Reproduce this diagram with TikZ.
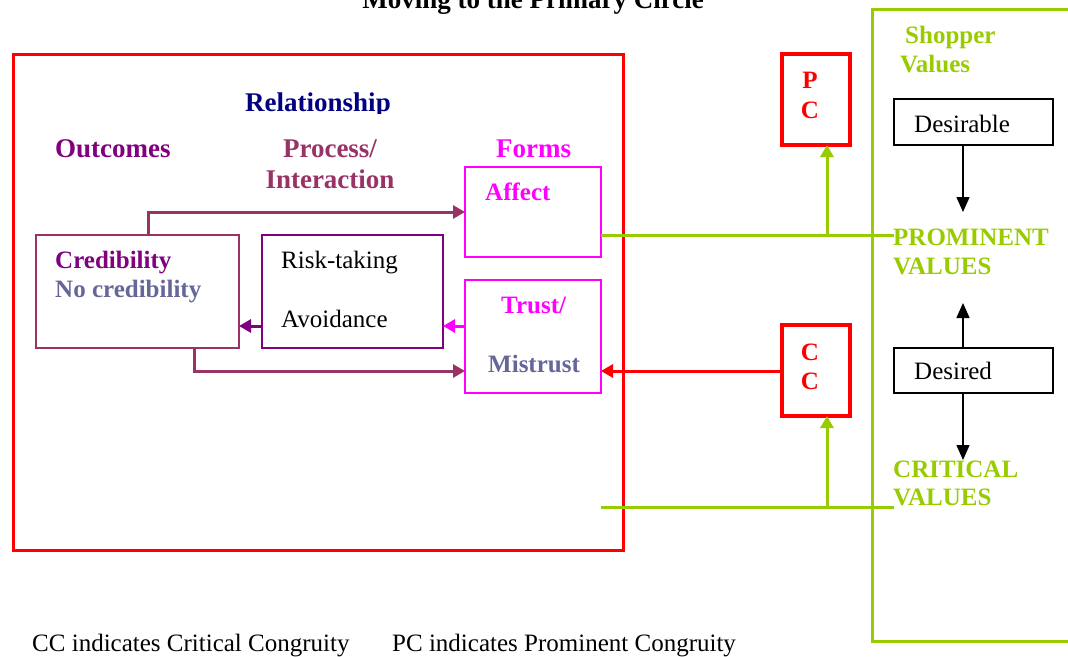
\documentclass[tikz,border=0pt]{standalone}
\usepackage{fontspec}
\setmainfont{Liberation Serif}
\usetikzlibrary{arrows.meta,calc}
\definecolor{cred}{HTML}{FF0000}
\definecolor{cgreen}{HTML}{99CC00}
\definecolor{cmag}{HTML}{FF00FF}
\definecolor{cpurple}{HTML}{800080}
\definecolor{cplum}{HTML}{993366}
\definecolor{cslate}{HTML}{666699}
\definecolor{cnavy}{HTML}{000080}
\begin{document}
\begin{tikzpicture}[x=1pt,y=-1pt,
  box/.style={draw, inner sep=0pt, outer sep=0pt, anchor=north west},
  txt/.style={anchor=base west, inner sep=0pt, font=\fontsize{25}{30}\selectfont},
  btxt/.style={anchor=base west, inner sep=0pt, font=\fontsize{25}{30}\selectfont\bfseries},
  ctxt/.style={anchor=base, inner sep=0pt, font=\fontsize{25}{30}\selectfont\bfseries},
  head/.style={anchor=base, inner sep=0pt, font=\fontsize{27}{32}\selectfont\bfseries},
  tri/.style={-{Triangle[length=12pt,width=13pt]}},
  btri/.style={-{Triangle[length=15pt,width=13pt]}, line width=1.5pt, black}]
\useasboundingbox (0,0) rectangle (1068,656);
\clip (0,0) rectangle (1068,656);

% title
\node[head] (title) at (533,8) {Moving to the Primary Circle};

% big relationship box
\node[box, draw=cred, line width=3pt, minimum width=610pt, minimum height=496pt] (rel) at (13,54) {};
\begin{scope}
\clip (200,80) rectangle (440,113);
\node[head, text=cnavy] (reltitle) at (318,111) {Relationship};
\end{scope}
\node[head, text=cpurple, anchor=base west] (outc) at (55,157) {Outcomes};
\node[head, text=cplum] (proc) at (330,157) {Process/};
\node[head, text=cplum] (inter) at (330,188) {Interaction};
\node[head, text=cmag, anchor=base west] (forms) at (496,157) {Forms};

% boxes inside
\node[box, draw=cmag, line width=1.5pt, minimum width=136pt, minimum height=90pt] (affect) at (465,167) {};
\node[btxt, text=cmag] (affectt) at (485,200) {Affect};
\node[box, draw=cmag, line width=1.5pt, minimum width=136pt, minimum height=113pt] (trust) at (465,280) {};
\node[btxt, text=cmag] (trustt) at (501,313) {Trust/};
\node[btxt, text=cslate] (mistr) at (488,372) {Mistrust};
\node[box, draw=cplum, line width=1.5pt, minimum width=203pt, minimum height=113pt] (cred) at (36,235) {};
\node[btxt, text=cpurple] (credt) at (55,268) {Credibility};
\node[btxt, text=cslate] (nocred) at (55,297) {No credibility};
\node[box, draw=cpurple, line width=2pt, minimum width=181pt, minimum height=113pt] (risk) at (262,235) {};
\node[txt] (riskt) at (281,268) {Risk-taking};
\node[txt] (avoid) at (281,327) {Avoidance};

% internal connectors
\draw[tri, cplum, line width=3pt] ($(cred.north west)+(112,0)$) |- (affect.west);
\draw[tri, cplum, line width=3pt] ($(cred.south west)+(158,0)$) |- ($(trust.south west)+(0,-22)$);
\coordinate (a1) at ($(risk.south west)+(0,-22)$);
\draw[tri, cpurple, line width=3pt] (a1) -- (a1 -| cred.east);
\coordinate (a2) at ($(trust.north west)+(0,46)$);
\draw[tri, cmag, line width=3pt] (a2) -- (a2 -| risk.east);

% PC and CC boxes
\node[box, draw=cred, line width=3.5pt, minimum width=68pt, minimum height=91pt] (pc) at (782,54) {};
\node[ctxt, text=cred] (pcp) at (810,88) {P};
\node[ctxt, text=cred] (pcc) at (810,118) {C};
\node[box, draw=cred, line width=3.5pt, minimum width=68pt, minimum height=91pt] (cc) at (782,325) {};
\node[ctxt, text=cred] (cc1) at (810,360) {C};
\node[ctxt, text=cred] (cc2) at (810,389) {C};
\draw[tri, cred, line width=3pt] ($(cc.north west)+(0,46)$) -- ($(trust.north east)+(0,91)$);

% shopper values box
\node[box, draw=cgreen, line width=3pt, minimum width=230pt, minimum height=632pt] (shop) at (872,9) {};
\node[btxt, text=cgreen] (shop1) at (905,43) {Shopper};
\node[btxt, text=cgreen] (shop2) at (900,72) {Values};
\node[box, draw=black, line width=1.5pt, minimum width=159pt, minimum height=46pt] (desb) at (894,99) {};
\node[txt] (desbt) at (914,132) {Desirable};
\node[box, draw=black, line width=1.5pt, minimum width=159pt, minimum height=45pt] (desd) at (894,348) {};
\node[txt] (desdt) at (914,379) {Desired};
\node[btxt, text=cgreen] (prom1) at (893,245) {PROMINENT};
\node[btxt, text=cgreen] (prom2) at (893,274) {VALUES};
\node[btxt, text=cgreen] (crit1) at (893,477) {CRITICAL};
\node[btxt, text=cgreen] (crit2) at (893,505) {VALUES};

% black arrows
\coordinate (t1) at (963,212);
\coordinate (t2) at (963,303);
\coordinate (t3) at (963,460);
\draw[btri] (desb.south -| t1) -- (t1);
\draw[btri] (desd.north -| t2) -- (t2);
\draw[btri] (desd.south -| t3) -- (t3);

% green lines
\coordinate (g1) at ($(affect.north east)+(0,68)$);
\coordinate (g1e) at (894,235);
\draw[cgreen, line width=3pt] (g1) -- (g1e);
\coordinate (g2s) at (601,507);
\coordinate (g2e) at (894,507);
\draw[cgreen, line width=3pt] (g2s) -- (g2e);
\coordinate (pcb) at ($(pc.south)+(11,0)$);
\draw[tri, cgreen, line width=3pt] (pcb |- g1) -- (pcb);
\coordinate (ccb) at ($(cc.south)+(11,0)$);
\draw[tri, cgreen, line width=3pt] (ccb |- g2s) -- (ccb);

% footer
\node[txt] (foot1) at (32,651) {CC indicates Critical Congruity};
\node[txt] (foot2) at (392,651) {PC indicates Prominent Congruity};
\end{tikzpicture}
\end{document}
